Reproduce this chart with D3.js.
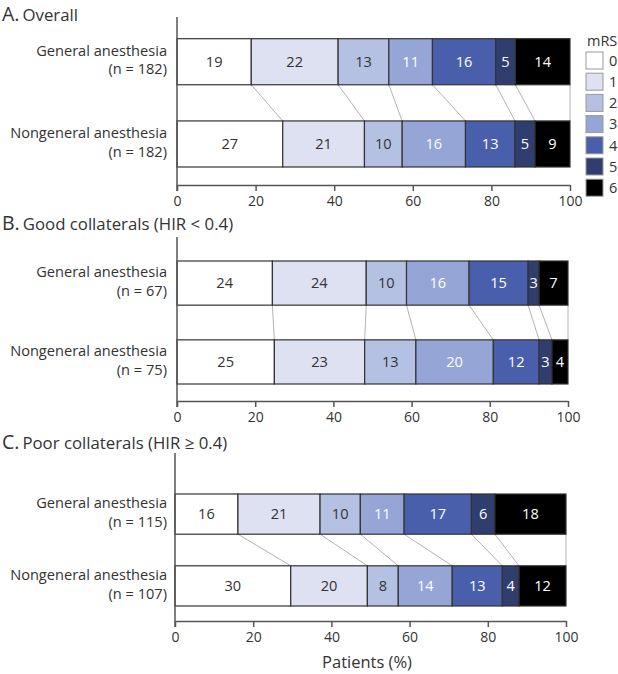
<!DOCTYPE html>
<html>
<head>
<meta charset="utf-8">
<script src="https://cdn.jsdelivr.net/npm/d3@7"></script>
<style>
  body { margin: 0; background: #fff; }
  text { font-family: "Open Sans", "Noto Sans", sans-serif; }
</style>
</head>
<body>
<div id="chart"></div>
<script>
// mRS categories and colours
const mrsLevels = ["0", "1", "2", "3", "4", "5", "6"];
const mrsColors = ["#ffffff", "#dde1f2", "#b5c1e3", "#94a5d6", "#4a5fab", "#2f3d6f", "#000000"];

const groups = ["General anesthesia", "Nongeneral anesthesia"];
const xTicks = [0, 20, 40, 60, 80, 100];

// percentages per mRS level
const overallGA = [18.9, 22.1, 12.9, 11.1, 16.1, 5.0, 13.9];
const overallNGA = [26.9, 20.8, 9.6, 16.1, 12.6, 5.1, 8.9];
const goodGA = [24.4, 24.0, 10.3, 16.0, 15.1, 2.8, 7.4];
const goodNGA = [24.9, 23.1, 13.1, 19.8, 11.7, 3.3, 4.1];
const poorGA = [16.1, 21.0, 10.3, 11.2, 17.2, 6.0, 18.2];
const poorNGA = [29.6, 19.6, 7.9, 13.8, 12.8, 4.3, 12.0];

const overallN = [182, 182];
const goodN = [67, 75];
const poorN = [115, 107];

const panelLetters = ["A.", "B.", "C."];
const panelTitles = ["Overall", "Good collaterals (HIR < 0.4)", "Poor collaterals (HIR \u2265 0.4)"];

const W = 618, H = 674;
const svg = d3.select("#chart").append("svg")
    .attr("width", W)
    .attr("height", H);

// layout of each panel
const panels = [
    { letter: panelLetters[0], title: panelTitles[0], rows: [overallGA, overallNGA], n: overallN,
      titleY: 20.5, axisTop: 17, axisY: 185, bars: [38.7, 167], x: [177, 570], lineGap: 18.5 },
    { letter: panelLetters[1], title: panelTitles[1], rows: [goodGA, goodNGA], n: goodN,
      titleY: 229.5, axisTop: 237, axisY: 401, bars: [261, 384], x: [177, 568], lineGap: 19 },
    { letter: panelLetters[2], title: panelTitles[2], rows: [poorGA, poorNGA], n: poorN,
      titleY: 448.5, axisTop: 453, axisY: 621, bars: [494, 606], x: [175, 566], lineGap: 18.5 }
];

const whiteText = [false, false, false, true, true, true, true];

panels.forEach(p => {
    const g = svg.append("g");

    const x = d3.scaleLinear().domain([0, 100]).range(p.x);
    const y = d3.scaleBand().domain(groups).range(p.bars).paddingInner(0.44).paddingOuter(0);

    // title
    const t = g.append("text")
        .attr("x", 2)
        .attr("y", p.titleY)
        .attr("fill", "#333");
    t.append("tspan").attr("font-size", 19.5).text(p.letter);
    t.append("tspan").attr("font-size", 16.8).attr("dx", 3).text(p.title);

    // stacked values
    const stacked = p.rows.map(vals => {
        let c = 0;
        return vals.map((v, i) => {
            const seg = { level: i, value: v, x0: c, x1: c + v };
            c += v;
            return seg;
        });
    });

    // connector lines between the two bars
    const bw = y.bandwidth();
    const yTop = y(groups[0]) + bw;
    const yBot = y(groups[1]);
    const conn = mrsLevels.map((_, i) => [stacked[0][i].x1, stacked[1][i].x1]);
    g.selectAll(".conn")
        .data(conn)
        .enter()
        .append("line")
        .attr("x1", d => x(d[0]))
        .attr("x2", d => x(d[1]))
        .attr("y1", yTop)
        .attr("y2", yBot)
        .attr("stroke", "#b3b3b3")
        .attr("stroke-width", 1);

    // bars
    stacked.forEach((segs, r) => {
        const row = g.append("g").attr("transform", `translate(0, ${y(groups[r])})`);
        row.selectAll("rect")
            .data(segs)
            .enter()
            .append("rect")
            .attr("x", d => x(d.x0))
            .attr("width", d => x(d.x1) - x(d.x0))
            .attr("y", 0)
            .attr("height", bw)
            .attr("fill", d => mrsColors[d.level])
            .attr("stroke", "#333")
            .attr("stroke-width", 1.2);
        row.selectAll("text")
            .data(segs)
            .enter()
            .append("text")
            .attr("x", d => (x(d.x0) + x(d.x1)) / 2)
            .attr("y", bw / 2)
            .attr("dy", "0.36em")
            .attr("text-anchor", "middle")
            .attr("font-size", 14.6)
            .attr("fill", d => whiteText[d.level] ? "#fff" : "#333")
            .text(d => Math.round(d.value));

        // row label
        const lab = g.append("text")
            .attr("text-anchor", "end")
            .attr("font-size", 14.6)
            .attr("fill", "#333")
            .attr("x", 167)
            .attr("y", y(groups[r]) + bw / 2 - p.lineGap / 2 + 3.5);
        lab.append("tspan").text(groups[r]);
        lab.append("tspan").attr("x", 167).attr("dy", p.lineGap).text(`(n = ${p.n[r]})`);
    });

    // x axis
    const ax = g.append("g")
        .attr("transform", `translate(0, ${p.axisY})`)
        .call(d3.axisBottom(x).tickValues(xTicks).tickSize(6).tickSizeOuter(0).tickPadding(5));
    ax.select(".domain").attr("stroke", "#555").attr("stroke-width", 1.5);
    ax.selectAll(".tick line").attr("stroke", "#555").attr("stroke-width", 1.5);
    ax.selectAll(".tick text")
        .attr("font-family", "Open Sans, sans-serif")
        .attr("font-size", 14)
        .attr("fill", "#333");

    // y axis line
    g.append("line")
        .attr("x1", x(0)).attr("x2", x(0))
        .attr("y1", p.axisTop).attr("y2", p.axisY + 6)
        .attr("stroke", "#555")
        .attr("stroke-width", 1.5);
});

// x axis title
svg.append("text")
    .attr("x", 367)
    .attr("y", 668)
    .attr("text-anchor", "middle")
    .attr("font-size", 16.5)
    .attr("fill", "#333")
    .text("Patients (%)");

// legend
const legend = svg.append("g").attr("transform", "translate(586, 0)");
legend.append("text")
    .attr("x", 1)
    .attr("y", 46)
    .attr("font-size", 14.5)
    .attr("fill", "#333")
    .text("mRS");
const item = legend.selectAll(".item")
    .data(mrsLevels)
    .enter()
    .append("g")
    .attr("transform", (d, i) => `translate(0, ${52 + i * 21.2})`);
item.append("rect")
    .attr("width", 17)
    .attr("height", 17)
    .attr("fill", (d, i) => mrsColors[i])
    .attr("stroke", "#999")
    .attr("stroke-width", 1);
item.append("text")
    .attr("x", 23)
    .attr("y", 8.5)
    .attr("dy", "0.36em")
    .attr("font-size", 14.5)
    .attr("fill", "#333")
    .text(d => d);
</script>
</body>
</html>
